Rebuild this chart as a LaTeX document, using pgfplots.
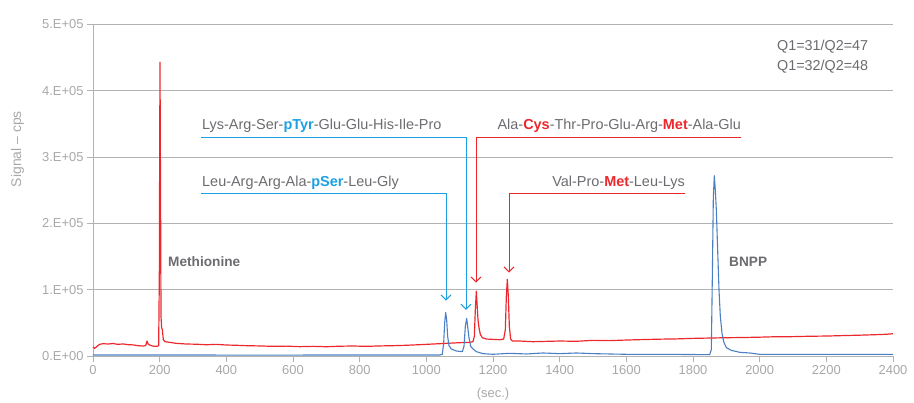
\documentclass[border=0pt]{standalone}
\usepackage{fontspec}
\setmainfont{Liberation Sans}
\usepackage{pgfplots}
\pgfplotsset{compat=1.18}
\usetikzlibrary{arrows.meta}

\definecolor{trRed}{RGB}{236,40,44}
\definecolor{trBlue}{RGB}{74,128,195}
\definecolor{anBlue}{RGB}{27,161,226}
\definecolor{gridGray}{RGB}{178,178,178}
\definecolor{tickGray}{RGB}{168,168,168}
\definecolor{txtGray}{RGB}{108,108,112}

\pgfplotstableread{
x y
0 14000
5 12000
12 15000
20 18000
30 19000
45 18500
60 19200
75 18000
90 18600
105 17500
120 17200
135 16000
150 15500
158 16000
162 23000
166 18000
175 16000
185 15000
193 15200
197 16000
199 120000
200 300000
201 443000
202 320000
203 200000
204 60000
206 43000
208 40000
211 25000
216 22000
230 21000
250 19500
280 18500
310 18200
340 17400
370 18000
400 17000
430 16600
460 16000
500 15600
540 15000
580 15300
620 14500
660 15000
700 14400
740 15200
780 15500
820 15000
860 15600
900 16000
940 16600
980 17500
1020 18500
1060 19500
1100 20500
1130 21000
1140 22000
1144 30000
1147 70000
1150 98000
1152 80000
1155 55000
1158 43000
1162 33000
1168 28000
1180 26000
1200 25500
1220 25000
1232 26000
1237 40000
1240 90000
1243 116000
1246 90000
1249 45000
1253 26000
1258 23000
1280 23000
1320 22000
1360 22500
1400 23000
1450 22600
1500 24000
1550 23600
1600 24500
1650 25200
1700 25800
1750 26200
1800 27000
1850 27500
1900 28000
1950 28300
2000 28800
2050 29500
2100 29600
2150 30200
2200 30500
2250 31200
2300 31800
2350 32600
2380 33200
2400 34000
}\redtab

\pgfplotstableread{
x y
0 2000
200 2000
500 1800
800 2000
1040 2000
1048 3000
1052 20000
1055 50000
1058 66000
1061 55000
1064 30000
1068 16000
1075 11000
1090 8000
1108 7000
1113 15000
1117 45000
1121 57000
1124 45000
1128 28000
1133 15000
1140 11000
1150 7000
1170 4000
1200 3000
1250 4500
1300 3500
1350 5000
1400 4000
1450 5000
1500 4000
1600 3000
1700 3000
1850 2500
1855 10000
1858 120000
1861 240000
1864 272000
1867 250000
1870 220000
1874 160000
1878 100000
1882 60000
1887 35000
1892 22000
1900 13000
1915 9000
1940 6000
1970 5000
2000 3000
2100 3000
2400 3000
}\bluetab

\begin{document}
\begin{tikzpicture}
\useasboundingbox (-93bp,-46.7bp) rectangle (821bp,356.3bp);
\begin{axis}[
  scale only axis,
  width=800bp, height=332bp,
  xmin=0, xmax=2400, ymin=0, ymax=500000,
  axis x line*=bottom, axis y line*=left,
  axis line style={gridGray, line width=0.9bp, -},
  xtick={0,200,...,2400},
  ytick={0,100000,200000,300000,400000,500000},
  yticklabels={0.E+00,1.E+05,2.E+05,3.E+05,4.E+05,5.E+05},
  scaled y ticks=false,
  ymajorgrids,
  grid style={gridGray, line width=0.9bp},
  tick align=outside,
  major tick length=6bp,
  tick style={gridGray, line width=0.9bp},
  /pgf/number format/assume math mode=true,
  /pgf/number format/1000 sep={},
  tick label style={font=\fontsize{13}{15}\selectfont, text=tickGray},
  ylabel={Signal – cps},
  ylabel style={at={(axis description cs:-0.0944,0.624)}, anchor=center,
    font=\fontsize{14}{16}\selectfont, text=tickGray},
  xlabel={(sec.)},
  xlabel style={at={(axis description cs:0.5,-0.1155)}, anchor=center,
    font=\fontsize{13}{15}\selectfont, text=tickGray},
  clip=false,
]
\addplot[trRed, line width=1.2pt, line join=round] table[x=x,y=y] {\redtab};
\addplot[trBlue, line width=1.1pt, line join=round] table[x=x,y=y] {\bluetab};

% peak labels
\node[anchor=west, inner sep=0pt, font=\fontsize{13.7}{15}\selectfont\bfseries, text=txtGray]
  at (axis cs:225,142400) {Methionine};
\node[anchor=west, inner sep=0pt, font=\fontsize{13.7}{15}\selectfont\bfseries, text=txtGray]
  at (axis cs:1908,142400) {BNPP};

% callouts
\draw[anBlue, line width=1bp, -{Straight Barb[length=5bp,width=10bp]}]
  (axis cs:324,328900) -- (axis cs:1119,328900) -- (axis cs:1119,70000);
\draw[anBlue, line width=1bp, -{Straight Barb[length=5bp,width=10bp]}]
  (axis cs:324,244700) -- (axis cs:1059,244700) -- (axis cs:1059,84000);
\draw[trRed, line width=1bp, -{Straight Barb[length=5bp,width=10bp]}]
  (axis cs:1944,328900) -- (axis cs:1149,328900) -- (axis cs:1149,111000);
\draw[trRed, line width=1bp, -{Straight Barb[length=5bp,width=10bp]}]
  (axis cs:1776,244700) -- (axis cs:1248,244700) -- (axis cs:1248,126000);

\node[anchor=west, inner sep=0pt, font=\fontsize{14.5}{16}\selectfont, text=txtGray]
  at (axis cs:327,346500) {Lys-Arg-Ser-\textcolor{anBlue}{\bfseries pTyr}-Glu-Glu-His-Ile-Pro};
\node[anchor=west, inner sep=0pt, font=\fontsize{14.5}{16}\selectfont, text=txtGray]
  at (axis cs:327,261500) {Leu-Arg-Arg-Ala-\textcolor{anBlue}{\bfseries pSer}-Leu-Gly};
\node[anchor=east, inner sep=0pt, font=\fontsize{14.5}{16}\selectfont, text=txtGray]
  at (axis cs:1944,346500) {Ala-\textcolor{trRed}{\bfseries Cys}-Thr-Pro-Glu-Arg-\textcolor{trRed}{\bfseries Met}-Ala-Glu};
\node[anchor=east, inner sep=0pt, font=\fontsize{14.5}{16}\selectfont, text=txtGray]
  at (axis cs:1776,261500) {Val-Pro-\textcolor{trRed}{\bfseries Met}-Leu-Lys};

% transition legend
\node[anchor=west, inner sep=0pt, font=\fontsize{14.4}{16}\selectfont, text=txtGray]
  at (axis cs:2052,465700) {Q1=31/Q2=47};
\node[anchor=west, inner sep=0pt, font=\fontsize{14.4}{16}\selectfont, text=txtGray]
  at (axis cs:2052,435600) {Q1=32/Q2=48};
\end{axis}
\end{tikzpicture}
\end{document}
